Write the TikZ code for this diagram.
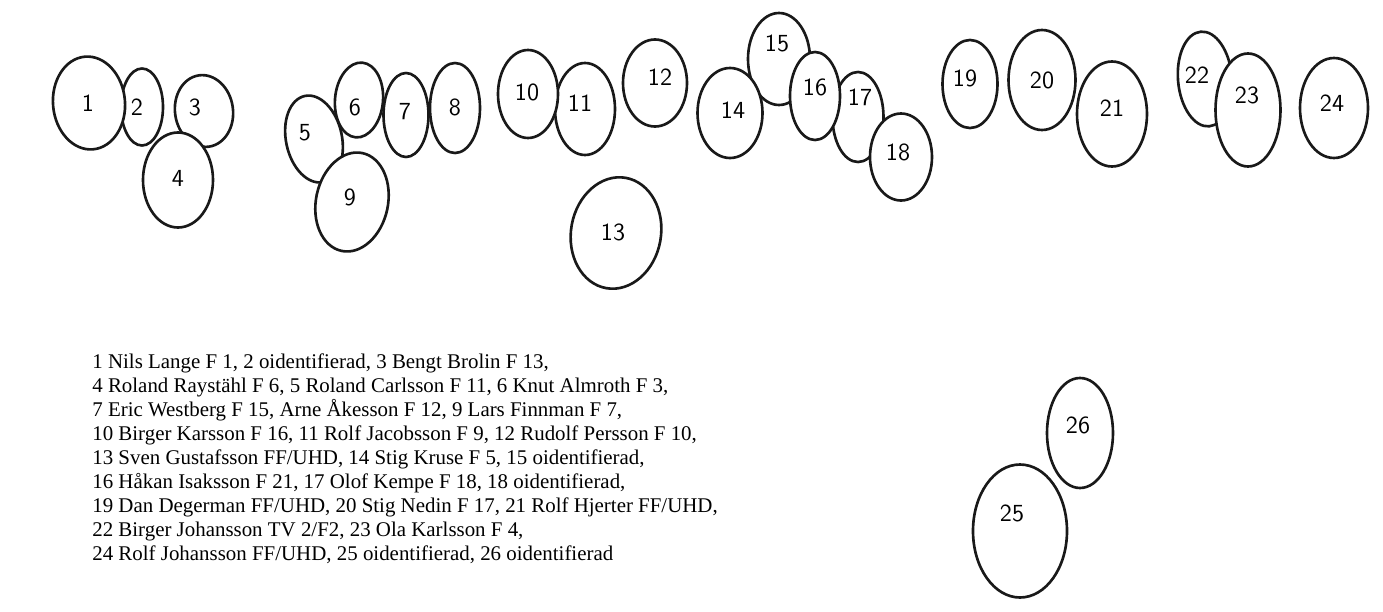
\documentclass[tikz,border=0pt]{standalone}
\usepackage{fontspec}
\setmainfont{Liberation Serif}
\usetikzlibrary{shapes.geometric}
\newlength\px
\setlength\px{0.02cm}

\begin{document}
\begin{tikzpicture}[x=\px, y=-\px,
		head/.style={ellipse, draw=black!90, fill=white, line width=1.5pt, inner sep=0pt},
		num/.style={font=\fontsize{14}{14}\sffamily, inner sep=0pt}]
		\useasboundingbox (0,0) rectangle (1383,612);
		%draw heads, back ones first
		\foreach \n/\x/\y/\w/\h/\r in {
			2/142/107/42/77/0, 1/89/103/72/93/5, 3/204/111/58/72/8, 4/178/180/70/95/0,
			6/359/100/48/75/-5, 7/406/115/45/84/0, 8/455/108/50/90/0, 5/314/139/56/88/12,
			9/352/202/72/100/-12, 11/585/109/60/92/0, 10/528/94/60/88/0, 12/655/83/64/87/0,
			13/616/233/90/112/-10, 15/779/59/62/92/0, 14/730/113/65/90/0, 17/858/117/51/90/0,
			16/815/96/50/88/0, 18/901/157/62/87/0, 19/970/84/55/88/0, 20/1042/80/67/100/0,
			21/1112/114/70/105/0, 22/1205/79/54/95/5, 23/1248/110/65/113/0, 24/1334/108/68/100/0,
			26/1080/433/66/110/0, 25/1020/531/94/133/0}
		\node[head, minimum width=\w*\px, minimum height=\h*\px, rotate=\r] (h\n) at (\x,\y) {};
		%draw numbers
		\foreach \n/\x/\y in {
			1/88/103, 2/137/107, 3/195/107, 4/178/178, 5/305/133, 6/355/107, 7/405/112,
			8/455/107, 9/350/197, 10/527/92, 11/580/103, 12/660/77, 13/613/232, 14/733/110,
			15/777/43, 16/815/87, 17/860/97, 18/898/152, 19/965/78, 20/1042/80, 21/1112/108,
			22/1197/75, 23/1247/95, 24/1332/103, 25/1012/513, 26/1078/425}
		\node[num] (n\n) at (\x,\y) {\n};
		%draw legend
		\node[font=\fontsize{11.9}{13.7}\selectfont, align=left, anchor=north west, inner sep=0pt] (legend) at (92,353) {
			1 Nils Lange F 1, 2 oidentifierad, 3 Bengt Brolin F 13,\\
			4 Roland Raystähl F 6, 5 Roland Carlsson F 11, 6 Knut Almroth F 3,\\
			7 Eric Westberg F 15, Arne Åkesson F 12, 9 Lars Finnman F 7,\\
			10 Birger Karsson F 16, 11 Rolf Jacobsson F 9, 12 Rudolf Persson F 10,\\
			13 Sven Gustafsson FF/UHD, 14 Stig Kruse F 5, 15 oidentifierad,\\
			16 Håkan Isaksson F 21, 17 Olof Kempe F 18, 18 oidentifierad,\\
			19 Dan Degerman FF/UHD, 20 Stig Nedin F 17, 21 Rolf Hjerter FF/UHD,\\
			22 Birger Johansson TV 2/F2, 23 Ola Karlsson F 4,\\
			24 Rolf Johansson FF/UHD, 25 oidentifierad, 26 oidentifierad};
	\end{tikzpicture}
\end{document}
